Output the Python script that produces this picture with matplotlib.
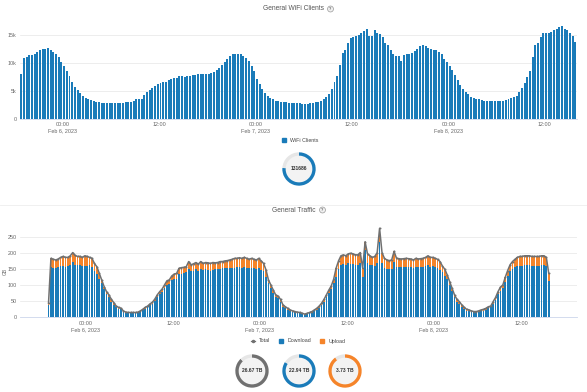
import numpy as np
import matplotlib
matplotlib.use("Agg")
import matplotlib.pyplot as plt
from matplotlib.patches import Patch, Circle
from matplotlib.lines import Line2D

plt.rcParams['font.family'] = ['Liberation Sans', 'DejaVu Sans']

# 20 minute buckets, first one at Feb 5 18:50 (hours relative to Feb 6 00:00)
start_hour = -5.1667
step_hour = 1 / 3

# WiFi clients per bucket, in thousands
wifi_k = [
    8.1, 10.9, 11.0, 11.4, 11.5, 11.7, 12.0, 12.3, 12.5, 12.6,
    12.7, 12.4, 12.0, 11.6, 11.0, 10.2, 9.4, 8.6, 7.6, 6.6,
    5.8, 5.2, 4.6, 4.1, 3.8, 3.6, 3.4, 3.2, 3.1, 3.0,
    2.9, 2.85, 2.8, 2.8, 2.8, 2.8, 2.8, 2.85, 2.9, 2.95,
    3.0, 3.1, 3.3, 3.5, 3.5, 3.6, 4.3, 4.8, 5.2, 5.6,
    5.9, 6.2, 6.4, 6.6, 6.7, 6.9, 7.1, 7.3, 7.4, 7.6,
    7.6, 7.5, 7.6, 7.7, 7.8, 7.9, 8.0, 8.1, 8.1, 8.1,
    8.1, 8.2, 8.4, 8.7, 9.1, 9.6, 10.1, 10.7, 11.3, 11.6,
    11.6, 11.7, 11.6, 11.3, 10.9, 10.3, 9.5, 8.5, 7.2, 6.3,
    5.4, 4.6, 4.1, 3.8, 3.5, 3.3, 3.2, 3.1, 3.0, 2.95,
    2.9, 2.9, 2.9, 2.85, 2.8,
    2.75, 2.7, 2.75, 2.8, 2.9, 3.0, 3.1, 3.3, 3.5, 3.9,
    4.4, 5.4, 6.6, 7.6, 9.6, 11.8, 12.4, 13.6, 14.5, 14.6,
    14.8, 15.1, 15.4, 15.7, 16.0, 14.8, 14.8, 15.9, 15.4, 15.2,
    14.7, 13.6, 13.2, 12.4, 11.6, 11.2, 11.2, 10.4, 11.4, 11.7,
    11.7, 11.8, 12.2, 12.6, 13.0, 13.3, 13.0, 12.7, 12.6, 12.4,
    12.3, 11.9, 11.6, 10.8, 10.2, 9.5, 8.7, 7.8, 6.9, 6.0,
    5.4, 4.8, 4.4, 4.0, 3.8, 3.6, 3.5, 3.4, 3.3, 3.3,
    3.2, 3.2, 3.2, 3.2, 3.25, 3.3, 3.4, 3.6, 3.7, 3.9,
    4.2, 4.8, 5.6, 6.4, 7.5, 8.6, 11.0, 13.2, 13.6, 14.6,
    15.3, 15.3, 15.4, 15.6, 15.9, 16.1, 16.4, 16.6, 16.0, 15.9,
    15.4, 14.8, 13.8,
]

# traffic per bucket, GB
traffic_total = [
    44, 184, 181, 179, 182, 187, 190, 187, 187, 192,
    202, 193, 190, 190, 187, 192, 190, 187, 184, 168,
    158, 137, 117, 96, 80, 70, 56, 46, 35, 31,
    28, 20, 16, 15, 15, 15, 15, 16, 20, 25,
    31, 35, 42, 47, 57, 70, 80, 88, 101, 114,
    117, 129, 135, 137, 153, 155, 156, 158, 174, 164,
    167, 171, 166, 174, 168, 171, 170, 168, 171, 170,
    171, 174, 174, 176, 177, 179, 181, 184, 184, 186,
    184, 187, 184, 181, 184, 181, 179, 184, 176, 168,
    148, 117, 101, 85, 70, 66, 56, 39, 33, 28,
    23, 20, 18, 16,
    15, 12.5, 10, 12.5, 15, 18, 23, 28, 35, 44,
    56, 70, 85, 98, 119, 153, 176, 192, 195, 192,
    198, 200, 198, 195, 195, 202, 153, 236, 198, 192,
    187, 190, 202, 278, 202, 184, 179, 177, 179, 206,
    184, 183, 182, 183, 184, 183, 182, 179, 184, 182,
    183, 184, 187, 192, 187, 187, 184, 181, 174, 160,
    150, 132, 111, 91, 70, 56, 49, 39, 31, 25,
    23, 20, 18, 18, 20, 23, 25, 28, 33, 35,
    49, 62, 80, 94, 101, 125, 146, 164, 174, 181,
    187, 190, 190, 192, 192, 192, 190, 190, 190, 190,
    192, 192, 187, 137,
]
traffic_download = [
    38, 156, 155, 154, 158, 161, 160, 158, 159, 162,
    172, 163, 163, 162, 161, 161, 160, 162, 158, 143,
    135, 119, 106, 87, 73, 62, 49, 39, 31, 27,
    25, 17, 14, 12.5, 12.5, 12.5, 12.5, 14, 17, 22,
    27, 31, 37, 42, 51, 62, 73, 80, 93, 102,
    104, 117, 119, 120, 135, 135, 137, 140, 150, 146,
    146, 150, 143, 150, 148, 150, 148, 146, 148, 150,
    152, 152, 153, 153, 153, 154, 155, 155, 156, 156,
    155, 156, 155, 154, 153, 154, 152, 155, 148, 143,
    127, 106, 91, 77, 62, 59, 49, 33, 28, 23,
    20, 17, 15, 12.5,
    12.5, 10.4, 8.3, 10.4, 12.5, 14.6, 18.8, 22.9, 30, 37.5,
    49, 62.5, 76, 89.6, 108, 127, 151, 164, 167, 164,
    169, 167, 167, 163, 164, 169, 125, 210, 171, 164,
    163, 160, 169, 236, 169, 153, 152, 152, 152, 174,
    158, 158, 157, 157, 157, 156, 156, 155, 158, 156,
    157, 158, 160, 163, 158, 160, 156, 153, 148, 140,
    129, 119, 101, 83, 62.5, 49, 42, 33, 26, 21,
    19, 17, 15, 15, 17, 19, 21, 23, 28, 31,
    42, 54, 72, 83, 91, 111, 129, 143, 150, 156,
    160, 161, 161, 163, 163, 163, 161, 161, 161, 161,
    163, 163, 160, 114,
]

tick_hours = [0, 12, 24, 36, 48, 60]
tick_labels = ["00:00\nFeb 6, 2023", "12:00", "00:00\nFeb 7, 2023",
               "12:00", "00:00\nFeb 8, 2023", "12:00"]

donut_labels = ["26.67 TB", "22.94 TB", "3.73 TB"]
donut_share = [0.88, 0.84, 0.9]
wifi_total_label = "131686"
wifi_share = 0.76

blue = "#1a7bb9"
orange = "#f5842a"
grey = "#707070"
text_c = "#555555"
W, H = 587, 392


def box(x0, y0, x1, y1):
    return [x0 / W, 1 - y1 / H, (x1 - x0) / W, (y1 - y0) / H]


def style(ax):
    for s in ["top", "right", "left"]:
        ax.spines[s].set_visible(False)
    ax.spines["bottom"].set_color("#ccd6eb")
    ax.spines["bottom"].set_linewidth(0.6)
    ax.grid(axis="y", color="#e6e6e6", linewidth=0.5)
    ax.set_axisbelow(True)
    ax.tick_params(length=0, labelsize=3.9, labelcolor="#666666", pad=2.5)
    ax.set_xticks(tick_hours)
    ax.set_xticklabels(tick_labels, linespacing=1.3)


def donut(cx, cy, share, color, label):
    ax = fig.add_axes(box(cx - 17, cy - 17, cx + 17, cy + 17))
    ax.add_patch(Circle((0, 0), 0.8, color="#f3f3f3", zorder=0))
    ax.pie([share, 1 - share], colors=[color, "#e6e6e6"], startangle=90,
           counterclock=False, radius=1, wedgeprops=dict(width=0.2, linewidth=0))
    ax.text(0, 0, label, ha="center", va="center", fontsize=3.6,
            color="#333333", fontweight="bold")
    ax.set_xlim(-1.02, 1.02)
    ax.set_ylim(-1.02, 1.02)
    ax.set_aspect("equal")
    ax.axis("off")


def title(y, txt, icon_x):
    fig.text(294 / W, 1 - y / H, txt, ha="center", va="center",
             fontsize=4.8, color=text_c)
    fig.text(icon_x / W, 1 - y / H, "?", ha="center", va="center",
             fontsize=2.8, color="#666666", fontweight="bold",
             bbox=dict(boxstyle="circle,pad=0.25", fc="#f0f0f0", ec="#999999", lw=0.5))


fig = plt.figure(figsize=(W / 100, H / 100), dpi=100)

# ---- WiFi clients
n = len(wifi_k)
hours = start_hour + np.arange(n) * step_hour
ax1 = fig.add_axes(box(20, 25, 577, 119))
ax1.bar(hours, wifi_k, width=step_hour * 0.74, color=blue, linewidth=0)
ax1.set_xlim(-5.33, 64.03)
ax1.set_ylim(0, 16.8)
ax1.set_yticks([0, 5, 10, 15])
ax1.set_yticklabels(["0", "5k", "10k", "15k"])
style(ax1)
title(9, "General WiFi Clients", 330.5)
ax1.legend(handles=[Patch(color=blue, label="WiFi Clients")], loc="center",
           bbox_to_anchor=(300 / W, 1 - 140.5 / H), bbox_transform=fig.transFigure,
           frameon=False, fontsize=3.8, handlelength=0.7, handleheight=0.7,
           handletextpad=0.8, labelcolor="#444444")
donut(299, 169, wifi_share, blue, wifi_total_label)

fig.add_artist(Line2D([0, 1], [1 - 205 / H] * 2, color="#eeeeee", lw=0.6))

# ---- traffic
n2 = len(traffic_total)
hours2 = start_hour + np.arange(n2) * step_hour
download = np.array(traffic_download)
upload = np.array(traffic_total) - download
ax2 = fig.add_axes(box(20, 226, 577, 317.3))
ax2.bar(hours2, download, width=step_hour * 0.72, color=blue, linewidth=0)
ax2.bar(hours2, upload, bottom=download, width=step_hour * 0.72, color=orange, linewidth=0)
ax2.plot(hours2, traffic_total, color=grey, lw=1.1, marker="o", ms=1.4, mew=0)
ax2.set_xlim(-9.1, 67.73)
ax2.set_ylim(0, 285)
ax2.set_yticks([0, 50, 100, 150, 200, 250])
style(ax2)
fig.text(5 / W, 1 - 271 / H, "GB", rotation=90, ha="center", va="center",
         fontsize=3.6, color="#666666")
title(210, "General Traffic", 322.5)
handles = [
    Line2D([], [], color=grey, lw=0.9, marker="o", ms=1.5, label="Total"),
    Patch(color=blue, label="Download"),
    Patch(color=orange, label="Upload"),
]
ax2.legend(handles=handles, loc="center", ncol=3,
           bbox_to_anchor=(298 / W, 1 - 341 / H), bbox_transform=fig.transFigure,
           frameon=False, fontsize=3.8, handlelength=0.8, handleheight=0.7,
           handletextpad=0.8, columnspacing=1.6, labelcolor="#444444")

for cx, share, color, label in zip([252, 299, 345], donut_share,
                                   [grey, blue, orange], donut_labels):
    donut(cx, 371, share, color, label)

fig.savefig("out.png", dpi=100)
